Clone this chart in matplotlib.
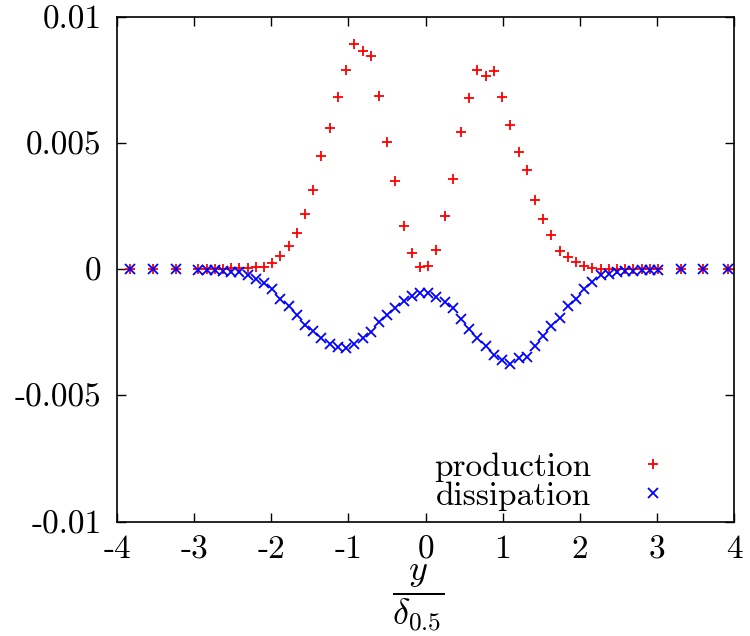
import numpy as np
import matplotlib
matplotlib.use("Agg")
import matplotlib.pyplot as plt

# Position across the jet, y / delta_0.5
y_pos = [-3.826, -3.534, -3.231,
         -2.946, -2.840, -2.733, -2.627, -2.520, -2.414, -2.308, -2.201,
         -2.095, -1.988, -1.882, -1.776, -1.669, -1.563, -1.456, -1.350,
         -1.244, -1.137, -1.031, -0.924, -0.818, -0.712, -0.605, -0.499,
         -0.392, -0.286, -0.180, -0.073, 0.033, 0.140, 0.246, 0.352,
         0.459, 0.565, 0.672, 0.778, 0.884, 0.991, 1.097, 1.204,
         1.310, 1.416, 1.523, 1.629, 1.736, 1.842, 1.948, 2.055,
         2.161, 2.268, 2.374, 2.480, 2.587, 2.693, 2.800, 2.906, 3.013,
         3.311, 3.600, 3.915]

# Budget terms, in units of 1e-3
production = [0.0, 0.0, 0.0,
              0.0, 0.0, 0.0, 0.013, 0.040, 0.040, 0.053, 0.079,
              0.106, 0.251, 0.516, 0.939, 1.442, 2.196, 3.148, 4.511,
              5.595, 6.839, 7.897, 8.942, 8.664, 8.452, 6.865, 5.053,
              3.505, 1.733, 0.648, 0.079, 0.119, 0.780, 2.103, 3.598,
              5.450, 6.812, 7.897, 7.672, 7.857, 6.825, 5.714, 4.656,
              3.942, 2.751, 1.984, 1.349, 0.714, 0.489, 0.291, 0.132,
              0.053, 0.013, 0.013, 0.013, 0.013, 0.0, 0.0, 0.0, 0.0,
              0.0, 0.0, 0.0]

dissipation = [0.0, 0.0, 0.0,
               -0.013, -0.013, -0.040, -0.053, -0.106, -0.119, -0.212, -0.384,
               -0.542, -0.780, -1.164, -1.468, -1.825, -2.196, -2.460, -2.725,
               -2.963, -3.082, -3.135, -2.950, -2.738, -2.474, -2.103, -1.799,
               -1.548, -1.270, -1.071, -0.939, -0.939, -1.098, -1.296, -1.534,
               -1.971, -2.368, -2.725, -3.056, -3.386, -3.585, -3.743, -3.519,
               -3.479, -3.056, -2.632, -2.235, -1.931, -1.468, -1.177, -0.780,
               -0.516, -0.212, -0.172, -0.119, -0.080, -0.053, -0.040, -0.026, -0.013,
               0.0, 0.0, 0.0]

x_ticks = [-4, -3, -2, -1, 0, 1, 2, 3, 4]
x_labels = ["-4", "-3", "-2", "-1", "0", "1", "2", "3", "4"]
y_ticks = [-0.01, -0.005, 0, 0.005, 0.01]
y_labels = ["-0.01", "-0.005", "0", "0.005", "0.01"]

plt.rcParams['font.family'] = ['cmr10', 'DejaVu Serif']
plt.rcParams['mathtext.fontset'] = 'cm'
plt.rcParams['axes.unicode_minus'] = False

fig = plt.figure(figsize=(7.5, 6.36), dpi=100)
ax = fig.add_axes([0.156, 0.180, 0.823, 0.793])

x = np.array(y_pos)
ax.plot(x, np.array(production) * 1e-3, linestyle="none", marker="+",
        color="#ff0000", markersize=7, markeredgewidth=1.3, label="production")
ax.plot(x, np.array(dissipation) * 1e-3, linestyle="none", marker="x",
        color="#0000ff", markersize=6.5, markeredgewidth=1.3, label="dissipation")

ax.set_xlim(-4, 4)
ax.set_ylim(-0.01, 0.01)
ax.set_xticks(x_ticks)
ax.set_xticklabels(x_labels)
ax.set_yticks(y_ticks)
ax.set_yticklabels(y_labels)
ax.tick_params(direction="in", length=6.5, width=1.0, labelsize=24,
               top=True, right=True, pad=11)
ax.tick_params(axis="x", pad=10)
for s in ax.spines.values():
    s.set_linewidth(1.2)

# fraction label sits a bit below the tick labels, centred near x = 0
ax.set_xlabel(r"$\dfrac{y}{\delta_{0.5}}$", fontsize=26)
ax.xaxis.set_label_coords(0.488, -0.082)

ax.legend(loc="lower right", bbox_to_anchor=(0.895, 0.021), frameon=False,
          markerfirst=False, fontsize=24, handlelength=1.0,
          handletextpad=1.36, labelspacing=-0.01, borderpad=0,
          borderaxespad=0)

fig.savefig("out.png", dpi=100)
